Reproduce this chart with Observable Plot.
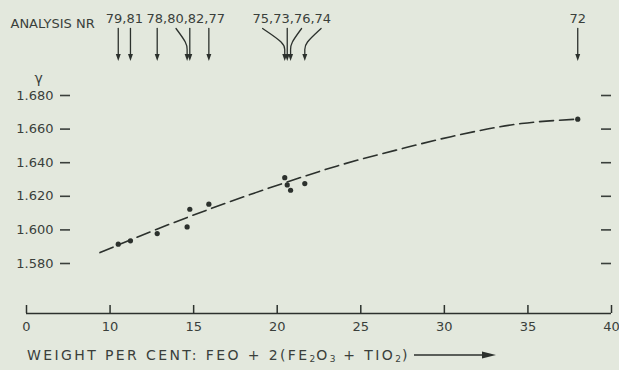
<!DOCTYPE html>
<html><head><meta charset="utf-8">
<script src="https://cdn.jsdelivr.net/npm/d3@7"></script>
<script src="https://cdn.jsdelivr.net/npm/@observablehq/plot@0.6"></script>
<style>
html,body{margin:0;padding:0;background:#e3e8dd;}
#chart{width:619px;height:370px;position:relative;overflow:hidden;font-family:"DejaVu Sans",sans-serif;color:#3a3f3b;}
.caption{height:30px;display:flex;align-items:center;padding-left:27px;font-size:14px;letter-spacing:2.4px;white-space:pre;}
.caption .s{font-size:9px;position:relative;top:4px;letter-spacing:1px;}
.caption svg{margin-left:4px;}
</style></head><body><div id="chart"></div>
<script>
// ---- data ----
const analysisNr = [79, 81, 78, 80, 82, 77, 75, 73, 76, 74, 72];
const weightPct  = [10.49, 11.22, 12.82, 14.61, 14.77, 15.91, 20.45, 20.60, 20.80, 21.65, 37.98];
const gammaVal   = [1.5915, 1.5935, 1.5978, 1.6018, 1.6123, 1.6153, 1.6311, 1.6268, 1.6236, 1.6276, 1.6659];

const curveX = [9.4, 12.8, 16.2, 20.2, 23.6, 27.4, 30.4, 34.6, 37.98];
const curveY = [1.5865, 1.6004, 1.6133, 1.6272, 1.6381, 1.6482, 1.6555, 1.6633, 1.6659];

const groupLabels  = ["79,81", "78,80,82,77", "75,73,76,74", "72"];
const groupMembers = [[79, 81], [78, 80, 82, 77], [75, 73, 76, 74], [72]];

const xTicks = [5, 10, 15, 20, 25, 30, 35, 40];
const xTickLabels = ["0", "10", "15", "20", "25", "30", "35", "40"];
const yTicks = [1.58, 1.60, 1.62, 1.64, 1.66, 1.68];

// ---- layout ----
const ink = "#2c312d";
const width = 619, height = 340, marginLeft = 26, marginRight = 8;
const xDomain = [5, 40];
const yDomain = [1.58, 1.68], yRange = [263, 95];
const xs = d3.scaleLinear().domain(xDomain).range([marginLeft, width - marginRight]);
const ys = d3.scaleLinear().domain(yDomain).range(yRange);

const points = analysisNr.map((n, i) => ({nr: n, x: weightPct[i], y: gammaVal[i]}));
const curve = curveX.map((x, i) => ({x, y: curveY[i]}));

const charW = 6.5;
const leaders = [], heads = [], labels = [];
groupLabels.forEach((lab, g) => {
  const members = groupMembers[g];
  const px = members.map(n => xs(weightPct[analysisNr.indexOf(n)]));
  const center = d3.mean(px);
  labels.push({text: lab, x: xs.invert(center)});
  members.forEach((n, j) => {
    const tx = px[j];
    let sx = center + (3 * j + 1 - lab.length / 2) * charW;
    if (Math.abs(sx - tx) < 7) sx = tx;
    const pts = sx === tx ? [[tx, 28], [tx, 55]] : [[sx, 28], [tx, 43], [tx, 49], [tx, 55]];
    pts.forEach(([a, b]) => leaders.push({nr: n, x: xs.invert(a), y: ys.invert(b)}));
    heads.push({x: xs.invert(tx), y: ys.invert(57)});
  });
});

const triDown = {draw(ctx, size) {
  const r = Math.sqrt(size / Math.PI);
  ctx.moveTo(-r * 0.95, -r * 1.3); ctx.lineTo(r * 0.95, -r * 1.3); ctx.lineTo(0, r * 1.3); ctx.closePath();
}};

const yBase = ys.invert(313);
const plot = Plot.plot({
  width, height, marginLeft, marginRight, marginTop: 0, marginBottom: 27,
  x: {domain: xDomain},
  y: {domain: yDomain, range: yRange},
  style: {background: "transparent", fontFamily: "'DejaVu Sans', sans-serif", fontSize: "13px", color: "#3a3f3b", overflow: "visible"},
  marks: [
    Plot.ruleY([yBase], {stroke: ink, strokeWidth: 1.5}),
    Plot.ruleX(xTicks, {x: d => d, y1: yBase, y2: ys.invert(305), stroke: ink, strokeWidth: 1.5}),
    Plot.axisX({ticks: xTicks, tickFormat: d => xTickLabels[xTicks.indexOf(d)], tickSize: 0, tickPadding: 8, label: null}),
    Plot.axisY({ticks: yTicks, tickFormat: d3.format(".3f"), tickSize: 10, tickPadding: 7, dx: 44, strokeWidth: 1.6, label: null}),
    Plot.axisY({anchor: "right", ticks: yTicks, tickFormat: () => "", tickSize: 10, dx: -11, strokeWidth: 1.6, label: null}),
    Plot.line(curve, {x: "x", y: "y", curve: "monotone-x", stroke: ink, strokeWidth: 1.6, strokeDasharray: "14,6"}),
    Plot.dot(points, {x: "x", y: "y", r: 2.6, fill: ink, stroke: null}),
    Plot.line(leaders, {x: "x", y: "y", z: "nr", curve: "basis", stroke: ink, strokeWidth: 1.3}),
    Plot.dot(heads, {x: "x", y: "y", symbol: triDown, r: 2.6, fill: ink, stroke: null}),
    Plot.text(labels, {x: "x", y: ys.invert(18), text: "text", fontSize: 13}),
    Plot.text(["ANALYSIS NR"], {frameAnchor: "top-left", dx: -16, dy: 18, textAnchor: "start", fontSize: 13}),
    Plot.text(["\u03b3"], {frameAnchor: "top-left", dx: 8, dy: 73, fontSize: 14})
  ]
});
const root = document.getElementById("chart");
root.appendChild(plot);
const cap = document.createElement("div");
cap.className = "caption";
cap.innerHTML = 'WEIGHT PER CENT: FEO + 2(FE<span class="s">2</span>O<span class="s">3</span> + TIO<span class="s">2</span>)' +
  '<svg width="82" height="10"><line x1="0" y1="5" x2="72" y2="5" stroke="' + ink + '" stroke-width="1.3"/><polygon points="68,1.5 82,5 68,8.5" fill="' + ink + '"/></svg>';
root.appendChild(cap);
</script>
</body></html>
